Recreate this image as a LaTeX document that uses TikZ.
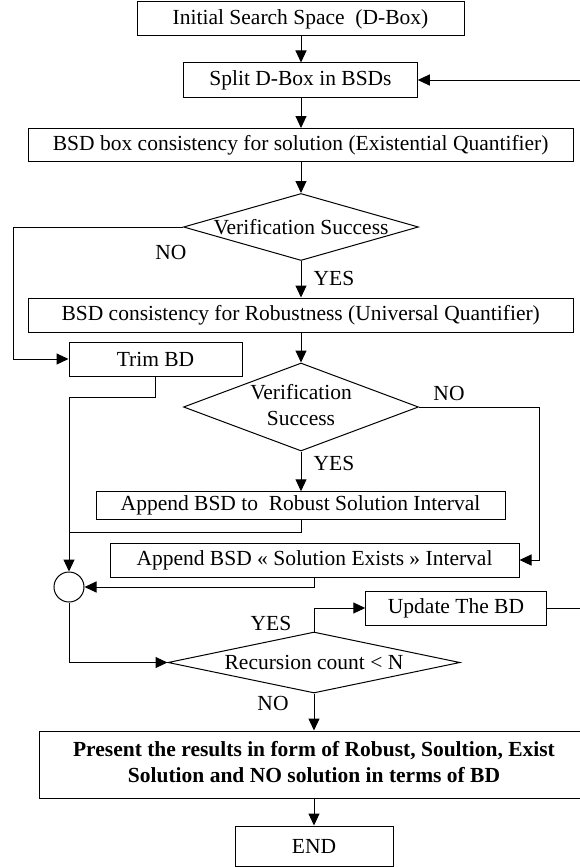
\documentclass[tikz,border=0pt]{standalone}
\usepackage{fontspec}
\setmainfont{Liberation Serif}
\usetikzlibrary{shapes.geometric,arrows.meta}
\begin{document}
\begin{tikzpicture}[x=1pt,y=-1pt,
  every node/.style={font=\fontsize{21.5}{26}\selectfont},
  box/.style={draw, line width=1pt, inner sep=0pt},
  dia/.style={draw, diamond, line width=1pt, inner sep=0pt, aspect=1},
  lbl/.style={inner sep=0pt},
  conn/.style={line width=1pt},
  arr/.style={line width=1pt, -{Triangle[length=12pt,width=11pt]}}]
\useasboundingbox (0,0) rectangle (579,867);
\node[box, minimum width=327pt, minimum height=34pt] (b1) at (300.5,19) {Initial Search Space\ \ (D-Box)};
\node[box, minimum width=233.5pt, minimum height=34pt] (b2) at (300.5,80) {Split D-Box in BSDs};
\node[box, minimum width=544.6pt, minimum height=33pt] (b3) at (300.7,145) {BSD box consistency for solution (Existential Quantifier)};
\node[dia, minimum width=235pt, minimum height=67pt] (d1) at (301,227) {\makebox[0pt]{Verification Success}};
\node[box, minimum width=544.6pt, minimum height=34pt] (b4) at (300.7,315) {BSD consistency for Robustness (Universal Quantifier)};
\node[box, minimum width=173pt, minimum height=34pt] (trim) at (155.5,359) {Trim BD};
\node[dia, minimum width=235pt, minimum height=88pt] (d2) at (301,407) {\makebox[0pt]{\begin{tabular}{@{}c@{}}Verification\\Success\end{tabular}}};
\node[box, minimum width=409pt, minimum height=27.5pt] (a1) at (300.5,505.5) {Append BSD to\ \ Robust Solution Interval};
\node[box, minimum width=409pt, minimum height=34pt] (a2) at (314.5,560) {Append BSD « Solution Exists » Interval};
\node[draw, circle, line width=1pt, minimum size=30pt, inner sep=0pt] (circ) at (69,587) {};
\node[dia, minimum width=292pt, minimum height=61pt] (d3) at (314,662.5) {\makebox[0pt]{Recursion count < N}};
\node[box, minimum width=180.5pt, minimum height=34pt] (up) at (456,608) {Update The BD};
\node[box, minimum width=550pt, minimum height=67pt, font=\fontsize{21.5}{25.7}\selectfont\bfseries] (pres) at (314,764.5) {\begin{tabular}{@{}c@{}}Present the results in form of Robust, Soultion, Exist\\Solution and NO solution in terms of BD\end{tabular}};
\node[box, minimum width=158pt, minimum height=40pt] (end) at (314,846) {END};
% labels
\node[lbl] (no1) at (171,252) {NO};
\node[lbl] (yes1) at (334,278) {YES};
\node[lbl] (no2) at (449,393) {NO};
\node[lbl] (yes2) at (334,463) {YES};
\node[lbl] (yes3) at (271,623) {YES};
\node[lbl] (no3) at (273,703) {NO};
% helper coordinates
\coordinate (L1) at (13,227);
\coordinate (R2) at (539,407);
\coordinate (J1) at (69,397);
\coordinate (J2) at (69,532);
\coordinate (FB) at (600,608);
% connectors
\draw[arr] (b1.south -| d1.north) -- (b2.north -| d1.north);
\draw[arr] (b2.south -| d1.north) -- (b3.north -| d1.north);
\draw[arr] (b3.south -| d1.north) -- (d1.north);
\draw[arr] (d1.west) -- (L1) |- (trim.west);
\draw[arr] (d1.south) -- (b4.north -| d1.south);
\draw[arr] (b4.south -| d2.north) -- (d2.north);
\draw[arr] (d2.south) -- (a1.north -| d2.south);
\draw[arr] (d2.east) -- (R2) |- (a2.east);
\draw[arr] (trim.south) |- (J1) -- (circ.north);
\draw[conn] (a1.south -| d2.south) |- (J2);
\draw[arr] (a2.south) |- (circ.east);
\draw[arr] (circ.south) |- (d3.west);
\draw[arr] (d3.north) |- (up.west);
\draw[arr] (up.east) -- (FB) |- (b2.east);
\draw[arr] (d3.south) -- (pres.north -| d3.south);
\draw[arr] (pres.south -| end.north) -- (end.north);
\end{tikzpicture}
\end{document}
